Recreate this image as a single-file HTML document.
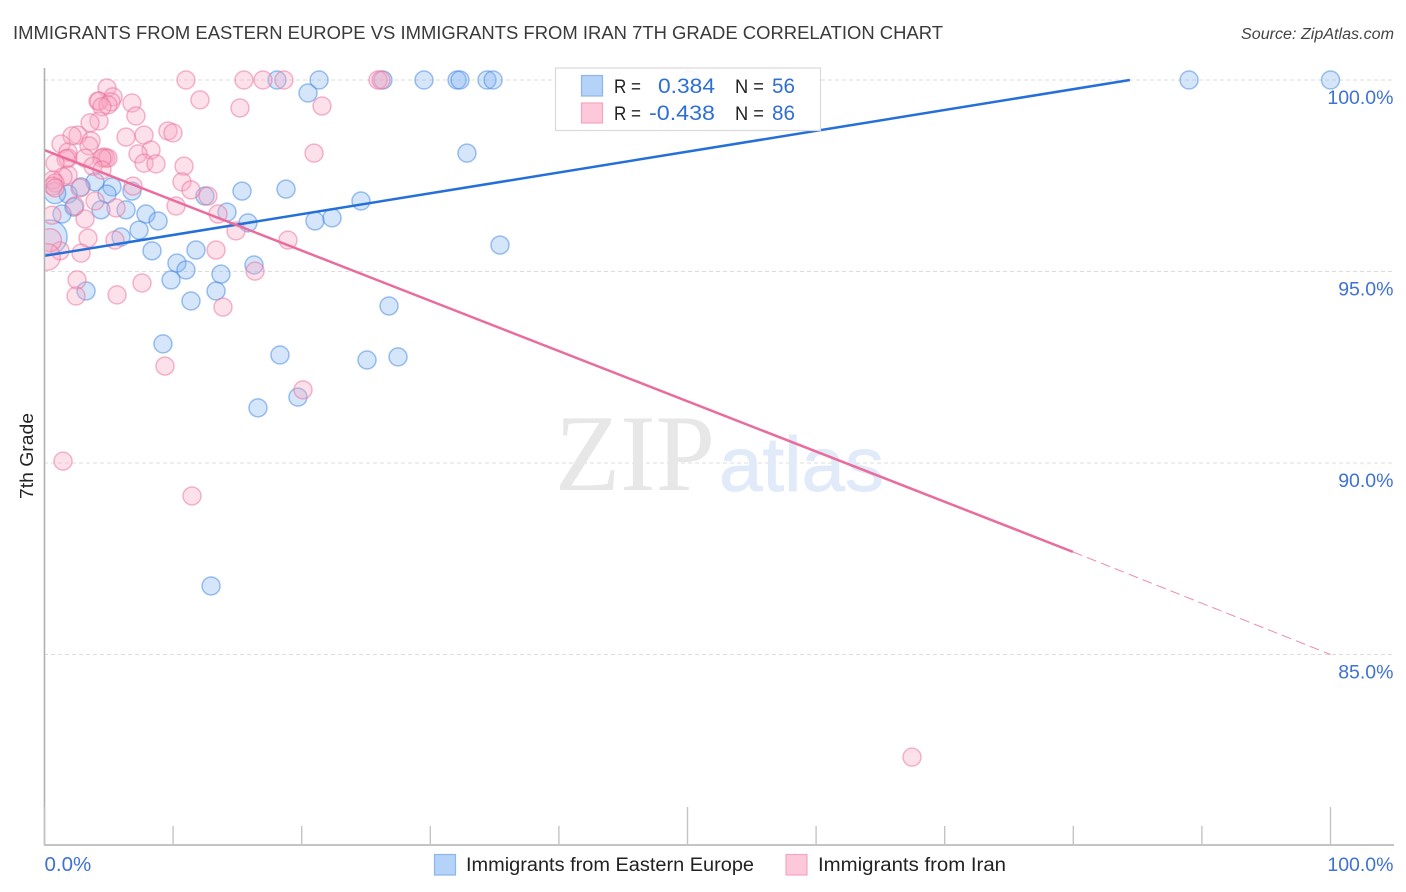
<!DOCTYPE html>
<html lang="en">
<head>
<meta charset="utf-8">
<title>7th Grade Correlation Chart</title>
<style>
  html, body { margin: 0; padding: 0; background: #fff; }
  body { width: 1406px; height: 892px; overflow: hidden; }
  svg { display: block; font-family: "Liberation Sans", Arial, sans-serif; }
</style>
</head>
<body>
<svg id="chart" xmlns="http://www.w3.org/2000/svg" width="1406" height="892" viewBox="0 0 1406 892">
  <defs>
    <clipPath id="plot-clip"><rect x="45.5" y="60" width="1360" height="785"></rect></clipPath>
    <filter id="soften" x="-5%" y="-5%" width="110%" height="110%"><feGaussianBlur stdDeviation="0.35"></feGaussianBlur></filter>
  </defs>
  <rect x="0" y="0" width="1406" height="892" fill="#ffffff"></rect>

  <text x="13" y="39" font-size="18.5" fill="#3a3a3a" textLength="930" lengthAdjust="spacingAndGlyphs">IMMIGRANTS FROM EASTERN EUROPE VS IMMIGRANTS FROM IRAN 7TH GRADE CORRELATION CHART</text>
  <text x="1241" y="39" font-size="15.5" font-style="italic" fill="#444444" textLength="153" lengthAdjust="spacingAndGlyphs">Source: ZipAtlas.com</text>

  <g id="grid"></g>

  <g>
    <text x="555" y="490" font-family="'Liberation Serif', serif" font-size="109" fill="#e7e7e7" textLength="160" lengthAdjust="spacingAndGlyphs">ZIP</text>
    <text x="719" y="491" font-size="77" fill="#e0eaf9" stroke="#e0eaf9" stroke-width="0.8" textLength="165" lengthAdjust="spacingAndGlyphs">atlas</text>
  </g>

  <g id="blue-points" clip-path="url(#plot-clip)" filter="url(#soften)"></g>
  <g id="pink-points" clip-path="url(#plot-clip)" filter="url(#soften)"></g>
  <g id="trend-lines"></g>
  <g id="axes"></g>
  <g id="tick-labels"></g>

  <text transform="translate(33,456) rotate(-90)" text-anchor="middle" font-size="18.5" fill="#222222" textLength="86" lengthAdjust="spacingAndGlyphs">7th Grade</text>

  <g>
    <rect x="555.5" y="68" width="265" height="62.5" fill="#ffffff" fill-opacity="0.9" stroke="#d9d9d9" stroke-width="1.2"></rect>
    <rect x="581.5" y="75.5" width="21" height="20.5" fill="#b5d2f8" stroke="#8db6ea" stroke-width="1.2"></rect>
    <rect x="581.5" y="103" width="21" height="20" fill="#fdc8da" stroke="#f3a6c1" stroke-width="1.2"></rect>
    <text x="614" y="93" font-size="19" fill="#222222" textLength="27" lengthAdjust="spacingAndGlyphs">R =</text>
    <text x="658" y="93" font-size="21" fill="#2f6fd4" textLength="57" lengthAdjust="spacingAndGlyphs">0.384</text>
    <text x="735" y="93" font-size="19" fill="#222222" textLength="29" lengthAdjust="spacingAndGlyphs">N =</text>
    <text x="772" y="93" font-size="21" fill="#2f6fd4" textLength="23" lengthAdjust="spacingAndGlyphs">56</text>
    <text x="614" y="120" font-size="19" fill="#222222" textLength="27" lengthAdjust="spacingAndGlyphs">R =</text>
    <text x="649" y="120" font-size="21" fill="#2f6fd4" textLength="66" lengthAdjust="spacingAndGlyphs">-0.438</text>
    <text x="735" y="120" font-size="19" fill="#222222" textLength="29" lengthAdjust="spacingAndGlyphs">N =</text>
    <text x="772" y="120" font-size="21" fill="#2f6fd4" textLength="23" lengthAdjust="spacingAndGlyphs">86</text>
  </g>

  <g>
    <rect x="434.5" y="854.5" width="21" height="20.5" fill="#b5d2f8" stroke="#8db6ea" stroke-width="1.2"></rect>
    <text x="466" y="871" font-size="19" fill="#222222" textLength="288" lengthAdjust="spacingAndGlyphs">Immigrants from Eastern Europe</text>
    <rect x="786" y="854.5" width="21" height="20.5" fill="#fdc8da" stroke="#f3a6c1" stroke-width="1.2"></rect>
    <text x="818" y="871" font-size="19" fill="#222222" textLength="188" lengthAdjust="spacingAndGlyphs">Immigrants from Iran</text>
  </g>
</svg>

<script>
// Values: [x %, y %, optional population weight]
const bluePoints = [
  [18.08,100],[21.35,100],[26.32,100],[29.51,100],[32.08,100],[32.31,100],[34.41,100],[34.88,100],[50.12,100],[89.0,100],[100,100],
  [20.49,99.66],[32.85,98.09],[3.93,97.34],[2.84,97.21],[5.25,97.21],[1.83,97.02],[4.86,97.02],[6.80,97.10],[0.82,97.05,1.4],
  [15.36,97.10],[18.78,97.15],[12.48,96.97],[24.61,96.84],[2.29,96.68],[1.36,96.50],[4.39,96.61],[6.34,96.61],[7.89,96.50],[14.19,96.55],
  [8.83,96.32],[15.82,96.27],[21.03,96.32],[22.36,96.40],[7.35,96.08],[5.95,95.90],[8.36,95.54],[11.78,95.56],[35.42,95.69],[10.30,95.22],
  [16.29,95.17],[11.00,95.04],[13.72,94.93],[9.84,94.78],[3.23,94.49],[13.34,94.49],[11.39,94.23],[26.79,94.10],[9.21,93.11],[18.31,92.82],
  [25.08,92.69],[27.49,92.77],[19.71,91.72],[16.60,91.44],[12.95,86.79],[0.43,95.90,3.6]
];
const pinkPoints = [
  [11.00,100],[15.51,100],[16.99,100],[18.62,100],[25.93,100],[26.17,100],[12.09,99.48],[15.20,99.27],[21.58,99.32],[20.96,98.09],
  [4.86,99.79],[5.33,99.56],[4.16,99.45],[4.24,99.45],[5.17,99.43],[4.94,99.35],[4.47,99.30],[6.80,99.40],[7.11,99.06],[4.24,98.93],
  [3.54,98.88],[2.60,98.56],[2.14,98.54],[6.34,98.51],[7.74,98.56],[9.60,98.67],[9.99,98.62],[3.62,98.41],[1.28,98.33],[3.46,98.28],
  [1.83,98.12],[8.28,98.17],[7.27,98.07],[1.83,97.96],[1.67,97.94],[3.15,97.96],[4.63,97.99],[4.78,97.96],[4.94,97.96],[4.47,97.96],
  [0.82,97.83],[7.74,97.83],[8.67,97.81],[3.77,97.75],[10.85,97.75],[4.47,97.65],[1.83,97.52],[1.44,97.47],[0.66,97.39],[0.82,97.31],
  [0.66,97.23],[0.82,97.18],[10.69,97.34],[6.88,97.23],[11.39,97.13],[2.76,97.18],[12.71,96.97],[3.93,96.84],[5.56,96.66],[10.23,96.71],
  [2.37,96.71],[13.49,96.50],[0.58,96.47],[3.15,96.37],[14.89,96.06],[3.38,95.87],[5.48,95.82],[18.93,95.82],[2.84,95.48],[1.21,95.54],
  [13.34,95.56],[0.43,95.82,1.6],[0.19,95.38,2.2],[16.37,95.01],[2.53,94.78],[2.45,94.36],[5.64,94.39],[7.58,94.70],[13.88,94.07],[9.37,92.53],
  [20.10,91.91],[1.44,90.05],[11.47,89.14],[67.46,82.32]
];
// Trend lines: [x %, y %]
const blueTrend = [[0,95.41],[84.4,100]];
const pinkTrendSolid = [[0,98.17],[79.97,87.68]];
const pinkTrendDashed = [[79.97,87.68],[100,85.0]];
// Axis ticks
const xTicks = [0,10,20,30,40,50,60,70,80,90,100];
const xMajorTicks = [0,50,100];
const yTicks = [100,95,90,85];
const yTickLabels = ["100.0%","95.0%","90.0%","85.0%"];
const xEndTicks = [0,100];
const xTickLabels = ["0.0%","100.0%"];

const NS = "http://www.w3.org/2000/svg";
function xScale(v) { return 44.5 + v * 12.86; }
function yScale(v) { return 80 + (100 - v) * 38.3; }

function make(tag, attrs, parent) {
  const el = document.createElementNS(NS, tag);
  for (const k in attrs) el.setAttribute(k, attrs[k]);
  parent.appendChild(el);
  return el;
}

const grid = document.getElementById("grid");
yTicks.forEach(function (t) {
  const y = yScale(t);
  const el = make("line", { x1: 44, x2: 1394, y1: y, y2: y, stroke: "#dcdcdc", "stroke-width": 1, "stroke-dasharray": "4 3" }, grid);
  
  
});

function drawPoints(points, parentId, fill, fillOpacity, stroke, name) {
  const parent = document.getElementById(parentId);
  points.forEach(function (p) {
    const w = p[2] || 1;
    const c = make("circle", {
      cx: xScale(p[0]), cy: yScale(p[1]), r: 9 * Math.sqrt(w),
      fill: fill, "fill-opacity": fillOpacity, stroke: stroke, "stroke-opacity": 0.5, "stroke-width": 1.5
    }, parent);
    
    
  });
}
drawPoints(bluePoints, "blue-points", "#7fb0f0", 0.32, "#3f86e0", "eastern-europe-point");
drawPoints(pinkPoints, "pink-points", "#f9a6c0", 0.34, "#ea6f9b", "iran-point");

const trends = document.getElementById("trend-lines");
function drawTrend(seg, color, width, dash, name) {
  const attrs = {
    x1: xScale(seg[0][0]), y1: yScale(seg[0][1]),
    x2: xScale(seg[1][0]), y2: yScale(seg[1][1]),
    stroke: color, "stroke-width": width
  };
  if (dash) attrs["stroke-dasharray"] = dash;
  const l = make("line", attrs, trends);
  
  
}
drawTrend(blueTrend, "#2470d8", 2.5, null, "eastern-europe-trend-line");
drawTrend(pinkTrendSolid, "#e96c9c", 2.5, null, "iran-trend-line");
drawTrend(pinkTrendDashed, "#ee8aae", 1, "10 5", "iran-trend-line-projection");

const axes = document.getElementById("axes");
const yAxisLine = make("line", { x1: 44.5, x2: 44.5, y1: 68, y2: 845, stroke: "#b0b0b0", "stroke-width": 1.6 }, axes);


const xAxisLine = make("line", { x1: 44, x2: 1394, y1: 845, y2: 845, stroke: "#b0b0b0", "stroke-width": 1.6 }, axes);


xTicks.forEach(function (t) {
  const x = xScale(t);
  const top = xMajorTicks.indexOf(t) >= 0 ? 807 : 826;
  const el = make("line", { x1: x, x2: x, y1: top, y2: 845, stroke: "#c4c4c4", "stroke-width": 1.4 }, axes);
  
  
});

const labels = document.getElementById("tick-labels");
yTicks.forEach(function (t, i) {
  const el = make("text", { x: 1393.5, y: yScale(t) + 24, "text-anchor": "end", "font-size": 19.5, fill: "#3f72d2" }, labels);
  el.textContent = yTickLabels[i];
  
  
});
xEndTicks.forEach(function (t, i) {
  const anchorEnd = t === 100;
  const el = make("text", { x: anchorEnd ? 1393.5 : xScale(t), y: 871, "text-anchor": anchorEnd ? "end" : "start", "font-size": anchorEnd ? 19.5 : 20.5, fill: "#3f72d2" }, labels);
  el.textContent = xTickLabels[i];
  
  
});
</script>
</body>
</html>
